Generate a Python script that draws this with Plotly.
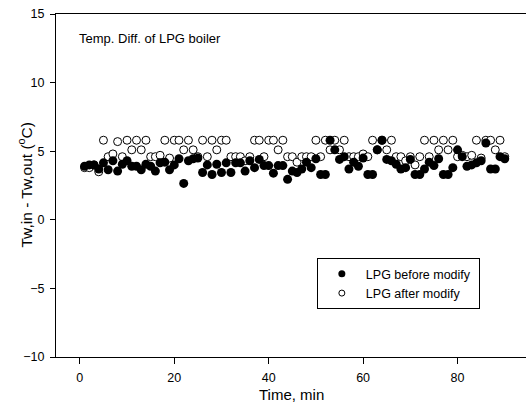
import plotly.graph_objects as go

time_min = list(range(1, 91))

lpg_before = [3.9, 4.0, 4.0, 3.7, 4.15, 3.65, 4.3, 3.55, 4.05, 4.3,
              3.9, 3.9, 3.65, 4.05, 3.9, 3.55, 4.15, 4.2, 3.65, 4.0,
              4.45, 2.65, 4.3, 4.45, 4.5, 3.45, 4.0, 3.3, 4.05, 3.45,
              4.15, 3.45, 4.15, 4.15, 3.55, 4.3, 3.8, 4.4, 3.95, 3.95,
              3.4, 3.95, 3.95, 2.95, 3.55, 3.45, 3.7, 4.2, 3.8, 4.45,
              3.3, 3.3, 5.8, 5.1, 4.4, 4.6, 3.7, 4.2, 3.9, 4.5,
              3.3, 3.3, 5.1, 5.8, 4.4, 4.3, 4.05, 3.7, 3.8, 4.4,
              3.3, 3.3, 3.7, 4.2, 3.95, 4.45, 3.3, 3.3, 3.8, 5.1,
              4.6, 3.9, 4.0, 4.15, 4.3, 5.6, 3.7, 3.7, 4.6, 4.45]

lpg_after = [3.8, 3.8, 4.0, 3.5, 5.8, 4.6, 4.8, 5.7, 4.6, 5.8,
             5.1, 5.8, 5.1, 5.8, 4.6, 4.6, 4.7, 5.8, 4.5, 5.8,
             5.8, 5.1, 5.8, 5.1, 4.6, 5.8, 4.6, 5.8, 5.1, 5.8,
             5.8, 4.6, 4.6, 4.6, 4.3, 4.6, 5.8, 5.8, 4.6, 5.8,
             5.8, 5.1, 5.8, 4.6, 4.6, 4.2, 4.6, 4.6, 4.6, 5.8,
             4.6, 5.8, 5.1, 5.8, 5.1, 5.8, 4.6, 4.6, 4.6, 4.8,
             4.6, 5.8, 5.1, 5.8, 5.1, 5.8, 4.6, 4.6, 4.3, 4.6,
             4.0, 4.6, 5.8, 4.6, 5.8, 5.1, 5.8, 5.1, 5.8, 4.6,
             4.7, 4.6, 4.7, 5.8, 4.5, 5.8, 5.8, 5.1, 5.8, 4.6]

x_ticks = [0, 20, 40, 60, 80]
y_ticks = [-10, -5, 0, 5, 10, 15]

FONT = "Liberation Sans, Arial, sans-serif"

fig = go.Figure()
fig.add_trace(go.Scatter(
    x=time_min, y=lpg_after, mode="markers", showlegend=False,
    marker=dict(symbol="circle", size=8, color="white",
                line=dict(color="black", width=1))))
fig.add_trace(go.Scatter(
    x=time_min, y=lpg_before, mode="markers", showlegend=False,
    marker=dict(symbol="circle", size=9, color="black",
                line=dict(color="black", width=0))))
# legend entries
fig.add_trace(go.Scatter(
    x=[None], y=[None], mode="markers", name="LPG before modify\u00a0",
    marker=dict(symbol="circle", size=7, color="black")))
fig.add_trace(go.Scatter(
    x=[None], y=[None], mode="markers", name="LPG after modify",
    marker=dict(symbol="circle", size=6, color="white",
                line=dict(color="black", width=1))))

fig.add_annotation(
    text="Temp. Diff. of LPG boiler", xref="paper", yref="paper",
    x=0.045, y=0.93, xanchor="left", yanchor="middle", showarrow=False,
    font=dict(family=FONT, size=13, color="black"))

# axis titles placed as annotations for exact positioning
fig.add_annotation(
    text="Tw,in - Tw,out (<sup>o</sup>C)", xref="paper", yref="paper",
    x=0, y=0.5, xshift=-31, xanchor="center", yanchor="middle",
    textangle=-90, showarrow=False,
    font=dict(family=FONT, size=15.5, color="black"))
fig.add_annotation(
    text="Time, min", xref="paper", yref="paper",
    x=0.5, y=0, yshift=-37, xanchor="center", yanchor="middle",
    showarrow=False, font=dict(family=FONT, size=15, color="black"))

fig.update_layout(
    width=526, height=404,
    margin=dict(l=56, r=0, t=14, b=47),
    paper_bgcolor="white", plot_bgcolor="white",
    font=dict(family=FONT, size=12.5, color="black"),
    legend=dict(x=0.555, y=0.288, xanchor="left", yanchor="top",
                bordercolor="black", borderwidth=1, bgcolor="white",
                font=dict(family=FONT, size=12.5, color="black"),
                itemwidth=38, tracegroupgap=0),
    xaxis=dict(range=[-5.05, 94.5], tickvals=x_ticks, ticks="outside",
               ticklen=6, tickcolor="black", showgrid=False, zeroline=False,
               showline=True, linecolor="black", linewidth=1, mirror=True,
               ticklabelstandoff=3),
    yaxis=dict(range=[-10, 15], tickvals=y_ticks, ticks="outside",
               ticklen=5, tickcolor="black", showgrid=False, zeroline=False,
               showline=True, linecolor="black", linewidth=1,
               ticklabelstandoff=3),
)

fig.write_html(
    "out.html",
    config={"displayModeBar": False},
    post_script="document.body.style.margin='0px';"
                "document.body.style.overflow='hidden';")
